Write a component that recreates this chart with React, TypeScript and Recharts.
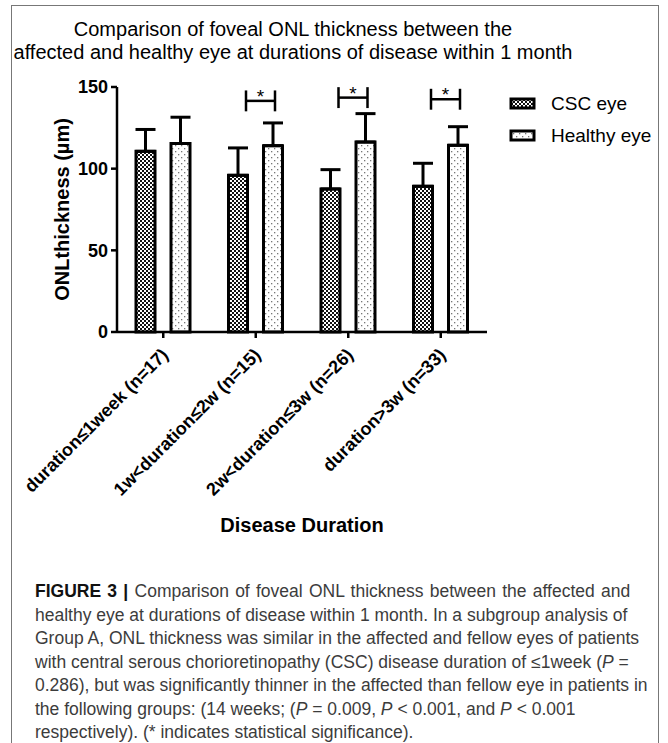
import React from 'react';
import { BarChart, Bar, XAxis, YAxis, ErrorBar, Legend, LabelList } from 'recharts';

const FONT = '"Liberation Sans", Arial, Helvetica, sans-serif';

const categories = [
  'duration≤1week (n=17)',
  '1w<duration≤2w (n=15)',
  '2w<duration≤3w (n=26)',
  'duration>3w (n=33)',
];
const cscMean = [110.6, 95.9, 87.6, 89.2];
const cscSD = [13.4, 16.8, 11.8, 14.1];
const healthyMean = [115.4, 114.1, 116.3, 114.3];
const healthySD = [16.1, 13.9, 17.4, 11.4];
const significant = [false, true, true, true];
const bracketLevel = [0, 141.5, 143.5, 142.5];
const yTicks = [0, 50, 100, 150];
const seriesNames = ['CSC eye', 'Healthy eye'];
const titleLines = [
  'Comparison of foveal ONL thickness between the',
  'affected and healthy eye at durations of disease within 1 month',
];
const yLabel = 'ONLthickness (µm)';
const xLabel = 'Disease Duration';
const captionLines = [
  '[FIGURE 3 |] Comparison of foveal ONL thickness between the affected and',
  'healthy eye at durations of disease within 1 month. In a subgroup analysis of',
  'Group A, ONL thickness was similar in the affected and fellow eyes of patients',
  'with central serous chorioretinopathy (CSC) disease duration of ≤1week ({P} =',
  '0.286), but was significantly thinner in the affected than fellow eye in patients in',
  'the following groups: (14 weeks; ({P} = 0.009, {P} < 0.001, and {P} < 0.001',
  'respectively). (* indicates statistical significance).',
];

const data = categories.map((c, i) => ({
  category: c,
  csc: cscMean[i],
  cscErr: [0, cscSD[i]],
  healthy: healthyMean[i],
  healthyErr: [0, healthySD[i]],
  sig: significant[i] ? i : null,
}));

const XTick = (props: any) => {
  const { x, y, payload } = props;
  return (
    <g transform={`translate(${x + 6},${y + 16})`}>
      <text
        transform="rotate(-45)"
        textAnchor="end"
        fontSize={18}
        fontWeight="bold"
        fontFamily={FONT}
        fill="#000"
      >
        {payload.value}
      </text>
    </g>
  );
};

const BracketLabel = (props: any) => {
  const vb = props.viewBox && props.viewBox.width != null ? props.viewBox : props;
  const { x, y, width, height } = vb;
  const idx = props.value;
  if (idx == null || typeof idx !== 'number') return null;
  const v = healthyMean[idx];
  const pxPerUnit = height / v;
  const zero = y + height;
  const ly = zero - bracketLevel[idx] * pxPerUnit;
  const half = 6.4 * pxPerUnit;
  const cx = x + width / 2;
  const x1 = cx - 27;
  const x2 = cx + 2;
  return (
    <g>
      <line x1={x1} x2={x2} y1={ly} y2={ly} stroke="#000" strokeWidth={2.5} />
      <line x1={x1} x2={x1} y1={ly - half} y2={ly + half} stroke="#000" strokeWidth={2.5} />
      <line x1={x2} x2={x2} y1={ly - half} y2={ly + half} stroke="#000" strokeWidth={2.5} />
      <text x={(x1 + x2) / 2} y={ly + 2} textAnchor="middle" fontSize={19} fontFamily={FONT} fill="#000">
        *
      </text>
    </g>
  );
};

const LegendContent = () => {
  const fills = ['url(#cscPat)', 'url(#healthyPat)'];
  return (
    <div style={{ position: 'relative', width: 170, height: 70 }}>
      {seriesNames.map((n, i) => (
        <div key={n} style={{ position: 'absolute', left: 0, top: i * 32, height: 28, display: 'flex', alignItems: 'center' }}>
          <svg width={28} height={14} style={{ display: 'block' }}>
            <rect x={2} y={2} width={23} height={9} fill={fills[i]} stroke="#000" strokeWidth={3} />
          </svg>
          <span style={{ marginLeft: 14, fontSize: 19, fontFamily: FONT, color: '#000', whiteSpace: 'nowrap' }}>{n}</span>
        </div>
      ))}
    </div>
  );
};

const renderCaptionLine = (line: string) => {
  const parts = line.split(/(\[[^\]]+\]|\{P\})/);
  return parts.map((p, i) => {
    if (p.startsWith('[')) return <b key={i} style={{ color: '#111' }}>{p.slice(1, -1)}</b>;
    if (p === '{P}') return <i key={i}>P</i>;
    return <span key={i}>{p}</span>;
  });
};

export default function App() {
  return (
    <div style={{ position: 'absolute', left: 0, top: 0, width: 668, height: 743, overflow: 'hidden', background: '#fff', fontFamily: FONT }}>
      <div style={{ position: 'absolute', left: 11, top: 5, width: 646, height: 780, border: '1.5px solid #777', borderBottom: 'none' }} />
      {titleLines.map((t, i) => (
        <div key={i} style={{ position: 'absolute', left: 0, width: 586, top: 18 + i * 23, textAlign: 'center', fontSize: 20, lineHeight: '23px', whiteSpace: 'nowrap', color: '#000' }}>
          {t}
        </div>
      ))}
      <div style={{ position: 'absolute', left: 0, top: 0 }}>
        <BarChart
          width={668}
          height={560}
          data={data}
          margin={{ top: 87, right: 181, bottom: 28, left: 57 }}
          barSize={19}
          barGap={16}
        >
          <defs>
            <pattern id="cscPat" width={4} height={4} patternUnits="userSpaceOnUse">
              <rect x={0} y={0} width={4} height={4} fill="#fff" />
              <rect x={0} y={0} width={2} height={2} fill="#111" />
              <rect x={2} y={2} width={2} height={2} fill="#111" />
            </pattern>
            <pattern id="healthyPat" width={6} height={6} patternUnits="userSpaceOnUse">
              <rect x={0} y={0} width={6} height={6} fill="#fff" />
              <rect x={1} y={1} width={1.3} height={1.3} fill="#777" />
              <rect x={4} y={4} width={1.3} height={1.3} fill="#777" />
            </pattern>
          </defs>
          <XAxis
            dataKey="category"
            height={200}
            interval={0}
            tick={<XTick />}
            tickSize={6}
            axisLine={{ stroke: '#000', strokeWidth: 2.5 }}
            tickLine={{ stroke: '#000', strokeWidth: 2.5 }}
            label={{ value: xLabel, position: 'insideBottom', offset: 0, fontSize: 20, fontWeight: 'bold', fill: '#000', fontFamily: FONT }}
          />
          <YAxis
            type="number"
            domain={[0, 150]}
            ticks={yTicks}
            width={60}
            tickSize={6}
            tickMargin={3}
            axisLine={{ stroke: '#000', strokeWidth: 2.5 }}
            tickLine={{ stroke: '#000', strokeWidth: 2.5 }}
            tick={{ fontSize: 18, fontWeight: 'bold', fill: '#000', fontFamily: FONT }}
            label={(p: any) => {
              const vb = p.viewBox || {};
              const cx = 69;
              const cy = (vb.y ?? 87) + (vb.height ?? 245) / 2;
              return (
                <text x={cx} y={cy} transform={`rotate(-90, ${cx}, ${cy})`} textAnchor="middle" fontSize={20} fontWeight="bold" fontFamily={FONT} fill="#000">
                  {yLabel}
                </text>
              );
            }}
          />
          <Legend
            layout="vertical"
            align="center"
            verticalAlign="middle"
            wrapperStyle={{ left: 509, top: 90, width: 170 }}
            content={<LegendContent />}
          />
          <Bar dataKey="csc" name={seriesNames[0]} fill="url(#cscPat)" stroke="#000" strokeWidth={3} isAnimationActive={false}>
            <ErrorBar dataKey="cscErr" direction="y" width={10} strokeWidth={3} stroke="#000" />
          </Bar>
          <Bar dataKey="healthy" name={seriesNames[1]} fill="url(#healthyPat)" stroke="#000" strokeWidth={3} isAnimationActive={false}>
            <ErrorBar dataKey="healthyErr" direction="y" width={10} strokeWidth={3} stroke="#000" />
            <LabelList dataKey="sig" content={<BracketLabel />} />
          </Bar>
        </BarChart>
      </div>
      <div style={{ position: 'absolute', left: 35, top: 580, fontSize: 17.5, lineHeight: '23.5px', color: '#3c3c3c', whiteSpace: 'nowrap' }}>
        {captionLines.map((l, i) => (
          <div key={i} style={i === 0 ? { wordSpacing: '1.4px' } : undefined}>{renderCaptionLine(l)}</div>
        ))}
      </div>
    </div>
  );
}
